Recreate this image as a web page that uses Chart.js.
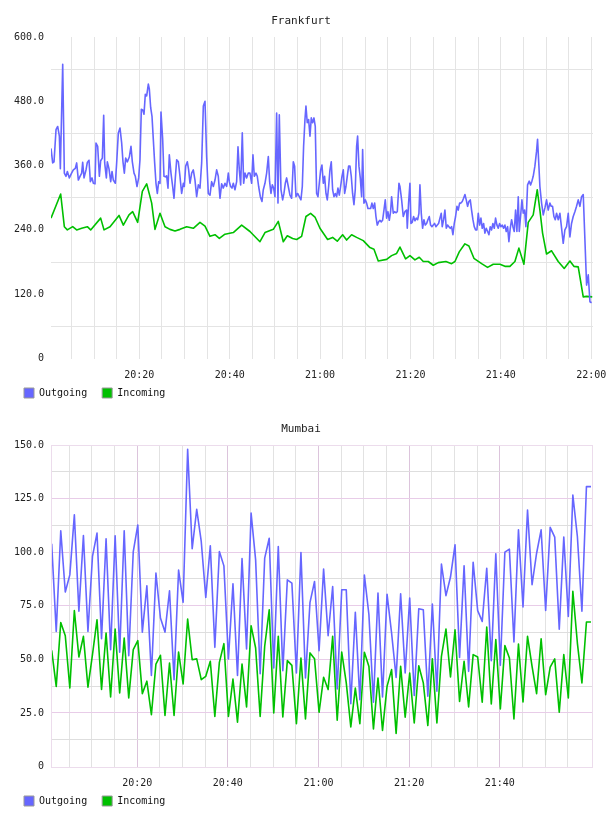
<!DOCTYPE html>
<html>
<head>
<meta charset="utf-8">
<script src="https://cdn.jsdelivr.net/npm/chart.js@4.4.1/dist/chart.umd.min.js"></script>
<style>
html,body{margin:0;padding:0;background:#fff;}
canvas{display:block;}
</style>
</head>
<body>
<canvas id="fra" width="608" height="408"></canvas>
<canvas id="mum" width="608" height="408"></canvas>
<script>
// ---------- DATA (time = minutes after 20:00) ----------
const seriesNames = ['Outgoing', 'Incoming'];
const chartTitles = ['Frankfurt', 'Mumbai'];

const fraOutTime = [0.46,0.83,1.13,1.57,1.94,2.31,2.53,3.05,3.41,3.78,4.08,4.52,4.96,5.40,5.85,6.14,6.51,6.88,7.25,7.47,7.77,8.21,8.50,8.87,9.17,9.54,9.83,10.20,10.42,10.79,11.16,11.45,11.82,12.12,12.34,12.71,12.93,13.30,13.67,13.96,14.25,14.70,14.99,15.36,15.73,16.10,16.39,16.69,16.98,17.35,17.79,18.16,18.46,18.83,19.12,19.49,19.86,20.15,20.45,20.75,21.04,21.33,21.63,22.00,22.22,22.52,22.81,23.10,23.40,23.69,23.99,24.29,24.58,24.80,25.17,25.46,25.76,26.05,26.35,26.64,27.01,27.38,27.68,27.97,28.27,28.64,29.00,29.37,29.74,29.96,30.26,30.63,30.92,31.22,31.59,31.95,32.32,32.69,33.06,
33.43,33.80,34.17,34.54,34.90,35.27,35.64,36.01,36.38,36.75,37.12,37.48,37.85,38.22,38.59,38.96,39.33,39.70,39.92,40.21,40.51,40.80,41.17,41.54,41.84,42.13,42.43,42.79,43.09,43.39,43.75,44.12,44.49,44.86,45.15,45.45,45.82,46.11,46.41,46.78,47.15,47.44,47.81,48.18,48.55,48.84,49.14,49.43,49.73,50.02,50.39,50.69,50.98,51.35,51.72,52.01,52.31,52.60,52.97,53.34,53.71,54.08,54.37,54.67,55.04,55.40,55.77,56.07,56.36,56.66,56.88,57.17,57.47,57.77,58.06,58.36,58.65,58.94,59.24,59.54,59.83,60.13,60.42,60.72,61.01,61.31,61.60,61.90,62.19,62.48,62.78,63.08,63.37,63.67,63.96,64.26,64.55,64.85,65.14,65.44,65.73,66.02,66.32,66.62,66.91,67.20,67.50,67.79,68.09,68.31,68.61,68.90,69.20,69.42,69.71,70.01,70.30,70.60,70.89,71.19,71.48,71.78,72.08,72.37,72.66,72.96,73.25,73.55,73.84,74.14,74.43,74.73,75.02,75.32,75.61,75.83,76.20,76.50,76.79,77.09,77.46,
77.68,78.05,78.41,78.78,79.15,79.30,79.59,79.89,80.11,80.40,80.70,81.00,81.29,81.59,81.88,82.10,82.40,82.69,82.99,83.28,83.58,83.87,84.17,84.46,84.76,85.05,85.35,85.64,85.94,86.23,86.53,86.82,87.04,87.34,87.63,87.93,88.22,88.52,88.81,89.11,89.40,89.70,89.99,90.29,90.58,90.88,91.17,91.47,91.76,92.06,92.35,92.65,92.94,93.24,93.53,93.83,94.12,94.42,94.71,95.01,95.31,95.60,95.89,96.19,96.48,96.78,97.08,97.37,97.66,97.96,98.25,98.55,98.84,99.14,99.43,99.73,100.02,100.32,100.61,100.91,101.20,101.50,101.79,102.09,102.39,102.68,102.97,103.27,103.56,103.86,104.08,104.37,104.67,104.96,105.26,105.55,105.92,106.29,106.59,106.88,107.17,107.54,107.91,108.13,108.43,108.65,109.02,109.39,109.76,110.12,110.49,110.86,111.16,111.45,111.75,112.04,112.34,112.71,113.08,113.45,113.81,114.18,114.55,114.92,115.29,115.65,116.02,116.39,116.76,117.13,117.50,117.87,118.24,118.98,119.35,119.72,120.09];
const fraOutValue = [392,365,367,427,433,415,354,549,346,340,349,337,345,352,355,365,333,340,346,366,337,352,366,370,330,337,327,326,402,396,340,369,374,454,365,337,367,354,330,349,333,327,365,421,430,402,367,346,374,367,376,396,367,346,340,321,337,371,465,464,456,493,490,512,503,468,452,409,365,327,308,330,327,460,409,340,339,341,318,380,346,321,299,337,371,367,340,308,327,321,359,367,352,327,346,352,333,302,324,
318,365,471,480,377,308,305,330,321,333,352,340,299,326,318,327,321,346,330,321,318,327,315,330,395,352,324,421,327,346,337,346,346,327,380,340,346,340,321,302,293,315,327,346,377,330,308,324,318,302,458,290,455,315,296,308,327,337,321,305,299,367,359,302,308,302,296,321,396,446,471,440,446,415,449,440,449,433,308,302,327,352,361,327,340,308,296,321,352,367,315,302,308,302,318,305,321,340,352,308,321,340,359,359,340,308,287,315,396,415,359,337,302,390,290,296,290,280,280,280,290,280,290,265,249,255,258,255,258,277,296,262,274,258,274,302,271,274,272,274,327,
321,296,265,274,277,243,290,327,252,254,265,257,262,259,271,324,271,243,259,249,252,259,265,249,246,249,252,246,249,252,262,271,246,259,277,243,249,246,243,246,231,252,265,284,277,290,290,293,299,306,296,284,293,296,277,259,246,240,240,271,249,262,243,252,234,243,237,231,246,240,252,243,262,249,243,252,246,249,243,249,237,246,218,243,259,246,237,277,237,302,237,265,296,271,277,246,324,331,324,331,340,359,387,409,359,321,290,268,281,296,277,290,284,284,265,259,271,259,271,243,215,240,246,271,227,252,265,274,284,296,284,302,306,137,156,106,104];

const fraInTime = [0.46,2.60,3.41,4.08,5.26,6.14,7.25,8.50,9.24,11.45,12.19,13.52,15.51,16.47,17.72,18.53,19.64,20.67,21.63,22.74,23.47,24.58,25.69,26.79,27.90,29.00,30.48,31.95,33.43,34.54,35.64,36.75,37.71,38.96,40.80,42.65,44.49,46.70,47.81,49.65,50.76,51.86,52.75,53.93,54.82,55.92,56.88,57.91,58.87,59.98,61.67,62.78,63.81,64.99,65.88,66.98,68.09,69.56,71.04,71.93,72.88,74.73,75.83,76.94,77.68,78.93,79.89,81.00,81.95,82.84,83.94,85.05,86.16,87.85,89.11,89.85,90.80,92.06,92.94,94.05,95.75,97.07,98.33,99.80,100.91,102.01,103.12,104.00,105.11,106.07,107.17,108.06,108.65,109.24,110.12,111.23,112.70,114.03,115.29,116.17,117.13,118.24,118.98,120.23];
const fraInValue = [262,307,246,240,246,240,243,246,240,262,240,246,267,249,268,274,254,312,326,290,241,271,246,241,238,241,246,243,254,247,228,231,224,232,235,249,237,218,235,241,256,218,229,224,222,228,265,271,264,243,222,226,219,231,221,231,226,220,207,204,182,185,192,196,208,186,192,184,189,181,181,174,179,181,177,181,199,214,210,187,177,170,176,176,172,172,181,206,176,254,268,315,277,234,195,201,181,168,182,172,171,115,116,115];

// Mumbai: one sample per minute, first sample at 20:01:08
const mumStart = '20:01:08';
const mumOutValue = [103.9,63,110,81.4,89.4,117.4,72.4,107.8,63,98,108.9,59.6,106.2,54.5,107.6,53.3,110,51.7,100.3,112.7,62.7,84.3,42.5,90.2,69.3,62.7,82,40.5,91.6,76.6,148,101.6,120,105,78.9,103,55.6,100.3,93.6,50.2,85.2,42.5,97,54.8,118.2,96.4,43.3,97.2,106.5,46,102.6,44.7,87.1,85.6,43.6,99.8,41.3,76.6,86.3,54,92.1,61,84,36.2,82.5,82.5,29.3,71.9,31.2,89.3,70.8,30,80.9,32.5,80.4,62.3,41.6,80.6,43.6,78.6,33.1,73.6,73.1,32.8,75.8,35.1,94.4,79.7,88.4,103.4,50.9,93.6,44.4,95.3,72.7,67.7,92.5,49.4,99.2,47.2,100,101.4,58.1,110.4,74.4,119.7,84.8,99.5,110.4,72.8,111.6,107,64.1,107,70,126.6,107.3,72.4,130.6,130.6];
const mumInValue = [54.2,37.4,67.2,61,36.6,72.8,51.1,60.7,37,52.2,68.5,35.9,62.3,32.5,64.1,34.3,59.9,32,54.5,58.7,34,39.8,24.2,47.8,51.9,23.8,48.3,23.8,53.4,38.5,68.8,49.8,50.2,40.5,42.1,49.1,23.4,48.6,57.3,23.4,40.8,20.7,47.8,27.8,65.7,55.3,23.4,56.1,73.1,25,60.7,23.1,49.4,47.2,20,50.6,22.2,53,50.3,25.3,41.6,35.9,60.7,21.6,53.4,39,18.5,36.6,20,53.3,46.7,17.5,41.3,16.8,37.4,45.2,15.4,46.7,23,43.6,20.3,47,39,19.1,50.2,20.3,51.4,64.1,41.8,63.8,30.4,49.1,27.8,52.2,51.1,30,65.1,29.2,59.2,26.9,56.4,50.6,22.2,57.1,30.1,60.7,46.7,34,59.6,33.5,46.4,50.2,25.3,52.2,32,81.7,57.6,39,67.4,67.4];

// axis ranges / tick steps
const fraXRange = [0.46, 120.4];
const mumXRange = [0.98, 120.58];
const fraYMax = 600, fraYStep = 60, fraYLabelEvery = 120;
const mumYMax = 150, mumYStep = 12.5, mumYLabelEvery = 25;
const xGridStep = 5, xLabelEvery = 20;

// ---------- helpers ----------
function clockToMin(s){ const p = s.split(':').map(Number); return (p[0]-20)*60 + p[1] + (p[2]||0)/60; }
const mumTime = mumOutValue.map((_, i) => clockToMin(mumStart) + i);
function fmtTime(m){ const h = 20 + Math.floor(m/60); const mm = Math.round(m % 60); return h + ':' + String(mm).padStart(2,'0'); }
function pts(t, v){ return t.map((x, i) => ({x: x, y: v[i]})); }

const FONT = 'DejaVu Sans Mono';
const BLUE = '#6666ff', GREEN = '#00c000';

const borderPlugin = {
  id: 'areaBorder',
  afterDraw(chart, args, opts){
    if (!opts || !opts.color) return;
    const {ctx, chartArea: a} = chart;
    ctx.save();
    ctx.strokeStyle = opts.color; ctx.lineWidth = 1;
    ctx.strokeRect(Math.round(a.left)+0.5, Math.round(a.top)+0.5, Math.round(a.right-a.left)-1, Math.round(a.bottom-a.top));
    ctx.restore();
  }
};

function build(id, title, outPts, inPts, cfg){
  return new Chart(document.getElementById(id), {
    type: 'line',
    data: { datasets: [
      { label: seriesNames[0], data: outPts, borderColor: BLUE, backgroundColor: BLUE, borderWidth: 1.6, pointRadius: 0, tension: 0, borderJoinStyle: 'round' },
      { label: seriesNames[1], data: inPts, borderColor: GREEN, backgroundColor: GREEN, borderWidth: 1.6, pointRadius: 0, tension: 0, borderJoinStyle: 'round' }
    ]},
    plugins: [borderPlugin],
    options: {
      responsive: false, animation: false, events: [],
      layout: { padding: { left: 9, right: 15, top: 0, bottom: 0 } },
      scales: {
        x: {
          type: 'linear', min: cfg.xRange[0], max: cfg.xRange[1],
          afterBuildTicks(s){ const t = []; for (let v = Math.ceil(s.min/xGridStep)*xGridStep; v <= cfg.xTickMax; v += xGridStep) t.push({value: v}); s.ticks = t; },
          afterFit(s){ s.height = 14.5; s.paddingLeft = 0; s.paddingRight = 0; s._computeLabelArea = () => undefined; },
          border: { display: false },
          grid: { drawTicks: false, lineWidth: 1, color: c => cfg.xGridColor(c.tick.value) },
          ticks: { autoSkip: false, maxRotation: 0, padding: 10.5, color: '#222', font: { family: FONT, size: 10 },
                   callback: v => (Math.abs(v % xLabelEvery) < 1e-6 ? fmtTime(v) : '') }
        },
        y: {
          min: 0, max: cfg.yMax,
          afterBuildTicks(s){ const t = []; for (let v = 0; v <= cfg.yMax + 1e-6; v += cfg.yStep) t.push({value: v}); s.ticks = t; },
          afterFit(s){ s.width = 42; s.paddingTop = 0; s.paddingBottom = 0; s._computeLabelArea = () => undefined; },
          border: { display: false },
          grid: { drawTicks: false, lineWidth: 1, color: c => cfg.yGridColor(c.tick.value) },
          ticks: { autoSkip: false, padding: 7, color: '#222', font: { family: FONT, size: 10 },
                   callback: v => (Math.abs(v % cfg.yLabelEvery) < 1e-6 ? (v === 0 ? '0' : v.toFixed(1)) : '') }
        }
      },
      plugins: {
        areaBorder: { color: cfg.border },
        tooltip: { enabled: false },
        title: { display: true, text: title, color: '#222', font: { family: FONT, size: 11, weight: 'normal', lineHeight: 1.2 }, padding: { top: 14.5, bottom: 9.3 } },
        legend: {
          position: 'bottom', align: 'start',
          labels: {
            boxWidth: 10, boxHeight: 10, padding: 15, color: '#111', font: { family: FONT, size: 10 },
            generateLabels(chart){
              const items = Chart.defaults.plugins.legend.labels.generateLabels(chart);
              items.forEach(it => { it.strokeStyle = '#999'; it.lineWidth = 1; });
              return items;
            }
          }
        }
      }
    }
  });
}

build('fra', chartTitles[0], pts(fraOutTime, fraOutValue), pts(fraInTime, fraInValue), {
  xRange: fraXRange, xTickMax: fraXRange[1],
  yMax: fraYMax, yStep: fraYStep, yLabelEvery: fraYLabelEvery,
  xGridColor: v => '#e4e4e4',
  yGridColor: v => (v % fraYLabelEvery === 0 ? 'rgba(0,0,0,0)' : '#e4e4e4'),
  border: null
});

build('mum', chartTitles[1], pts(mumTime, mumOutValue), pts(mumTime, mumInValue), {
  xRange: mumXRange, xTickMax: 119,
  yMax: mumYMax, yStep: mumYStep, yLabelEvery: mumYLabelEvery,
  xGridColor: v => (v % xLabelEvery === 0 ? '#dcc4dc' : '#e2e2e2'),
  yGridColor: v => (v === 0 || v === mumYMax ? 'rgba(0,0,0,0)' : (v % mumYLabelEvery === 0 ? '#e8cce8' : '#dedede')),
  border: '#ecdcec'
});
</script>
</body>
</html>
